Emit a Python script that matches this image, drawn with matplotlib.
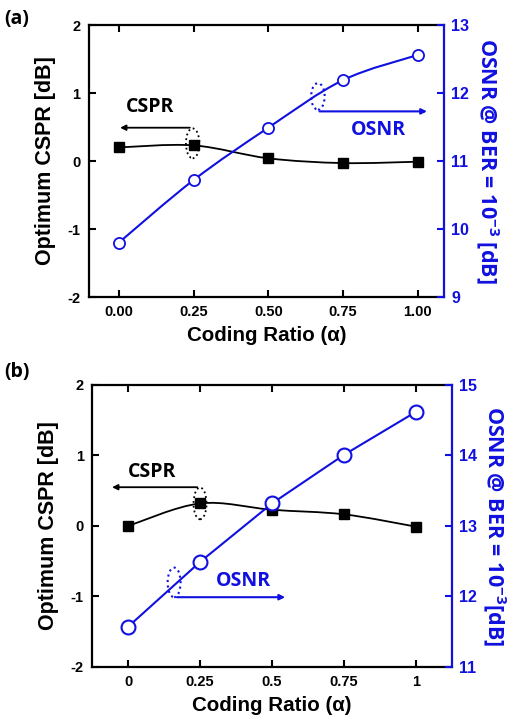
import numpy as np
import matplotlib
matplotlib.use("Agg")
import matplotlib.pyplot as plt
from matplotlib.path import Path
from matplotlib.patches import PathPatch, Ellipse

plt.rcParams['font.family'] = ['Liberation Sans', 'DejaVu Sans']
plt.rcParams['font.weight'] = 'bold'
plt.rcParams['mathtext.fontset'] = 'custom'
plt.rcParams['mathtext.rm'] = 'Open Sans:bold'
plt.rcParams['mathtext.bf'] = 'Open Sans:bold'

# --- data ---
alpha = [0.0, 0.25, 0.5, 0.75, 1.0]
cspr_a = [0.20, 0.23, 0.04, -0.03, -0.01]
osnr_a = [9.80, 10.72, 11.49, 12.19, 12.56]
cspr_b = [0.00, 0.32, 0.23, 0.165, -0.01]
osnr_b = [11.57, 12.49, 13.32, 14.01, 14.62]

xticks_a = [0.0, 0.25, 0.5, 0.75, 1.0]
xlabels_a = ['0.00', '0.25', '0.50', '0.75', '1.00']
xlabels_b = ['0', '0.25', '0.5', '0.75', '1']

BLUE = '#1010e0'
CAL = ['Open Sans', 'DejaVu Sans']


def smooth_path(ax, x, y, color, lw):
    # Catmull-Rom style Bezier through the data points, drawn by matplotlib
    x = np.asarray(x, float)
    y = np.asarray(y, float)
    pts = np.column_stack([x, y])
    verts = [pts[0]]
    codes = [Path.MOVETO]
    n = len(pts)
    for i in range(n - 1):
        p0 = pts[i - 1] if i > 0 else pts[i]
        p1, p2 = pts[i], pts[i + 1]
        p3 = pts[i + 2] if i + 2 < n else pts[i + 1]
        c1 = p1 + (p2 - p0) / 6.0
        c2 = p2 - (p3 - p1) / 6.0
        verts += [c1, c2, p2]
        codes += [Path.CURVE4] * 3
    ax.add_patch(PathPatch(Path(verts, codes), fc='none', ec=color, lw=lw, zorder=2))


def style_axes(ax, ax2):
    for sp in ['left', 'bottom', 'top']:
        ax.spines[sp].set_linewidth(1.6)
    ax.spines['right'].set_visible(False)
    for sp in ['left', 'bottom', 'top']:
        ax2.spines[sp].set_visible(False)
    ax2.spines['right'].set_color(BLUE)
    ax2.spines['right'].set_linewidth(1.6)
    ax.tick_params(axis='both', direction='in', length=5, width=1.5, labelsize=10.5,
                   top=True, pad=6)
    ax2.tick_params(axis='y', direction='in', length=5, width=1.5, labelsize=11.5,
                    colors=BLUE, pad=5)
    ax.set_ylim(-2, 2)
    ax.set_yticks([-2, -1, 0, 1, 2])
    ax.set_yticklabels(['-2', '-1', '0', '1', '2'])
    ax.set_ylabel('Optimum CSPR [dB]', fontsize=15.5, fontweight='bold', labelpad=8)
    ax.set_xlabel('Coding Ratio (α)', fontsize=14.8, fontweight='bold', labelpad=5)


fig = plt.figure(figsize=(5.14, 7.25), dpi=100)

# ---------------- panel (a) ----------------
ax = fig.add_axes([0.173, 0.5903, 0.691, 0.3752])
ax2 = ax.twinx()
ax.set_xlim(-0.1, 1.088)
ax.set_xticks(xticks_a)
ax.set_xticklabels(xlabels_a)
style_axes(ax, ax2)

smooth_path(ax, alpha, cspr_a, 'black', 1.3)
ax.plot(alpha, cspr_a, 's', color='black', ms=7, zorder=4)
ax2.set_ylim(9, 13)
ax2.set_yticks([9, 10, 11, 12, 13])
smooth_path(ax2, alpha, osnr_a, BLUE, 1.5)
ax2.plot(alpha, osnr_a, 'o', mfc='white', mec=BLUE, mew=1.3, ms=8, zorder=4)
ax2.set_ylabel(r'OSNR @ BER = 10$^{-3}$ [dB]', fontsize=15.5, fontweight='bold',
               color=BLUE, rotation=270, labelpad=22, family=CAL)

ax.text(0.104, 0.79, 'CSPR', fontsize=14, fontweight='bold', ha='center', va='center',
        family=CAL)
ax.annotate('', xy=(-0.005, 0.49), xytext=(0.247, 0.49),
            arrowprops=dict(arrowstyle='-|>', color='black', lw=1.3, mutation_scale=8))
ax.add_patch(Ellipse((0.247, 0.26), 0.045, 0.44, fill=False, ls=':', lw=1.3, ec='black', zorder=5))
ax.add_patch(Ellipse((0.666, 0.95), 0.045, 0.39, fill=False, ls=':', lw=1.5, ec=BLUE, zorder=5))
ax.annotate('', xy=(1.04, 0.73), xytext=(0.662, 0.73),
            arrowprops=dict(arrowstyle='-|>', color=BLUE, lw=1.5, mutation_scale=8))
ax.text(0.87, 0.45, 'OSNR', fontsize=14, fontweight='bold', ha='center', va='center',
        color=BLUE, family=CAL)
fig.text(0.008, 0.988, '(a)', fontsize=14, fontweight='bold', ha='left', va='top', family=CAL)

# ---------------- panel (b) ----------------
bx = fig.add_axes([0.179, 0.080, 0.700, 0.389])
bx2 = bx.twinx()
bx.set_xlim(-0.125, 1.124)
bx.set_xticks(xticks_a)
bx.set_xticklabels(xlabels_b)
style_axes(bx, bx2)

smooth_path(bx, alpha, cspr_b, 'black', 1.3)
bx.plot(alpha, cspr_b, 's', color='black', ms=7, zorder=4)
bx2.set_ylim(11, 15)
bx2.set_yticks([11, 12, 13, 14, 15])
bx2.plot(alpha, osnr_b, '-o', color=BLUE, mfc='white', mec=BLUE, mew=1.5, ms=10, lw=1.5, zorder=4)
bx2.set_ylabel(r'OSNR @ BER = 10$^{-3}$[dB]', fontsize=15.5, fontweight='bold',
               color=BLUE, rotation=270, labelpad=22, family=CAL)

bx.text(0.084, 0.76, 'CSPR', fontsize=14, fontweight='bold', ha='center', va='center',
        family=CAL)
bx.annotate('', xy=(-0.065, 0.55), xytext=(0.25, 0.55),
            arrowprops=dict(arrowstyle='-|>', color='black', lw=1.3, mutation_scale=8))
bx.add_patch(Ellipse((0.25, 0.32), 0.045, 0.45, fill=False, ls=':', lw=1.3, ec='black', zorder=5))
bx.add_patch(Ellipse((0.16, -0.80), 0.045, 0.42, fill=False, ls=':', lw=1.5, ec=BLUE, zorder=5))
bx.annotate('', xy=(0.555, -1.01), xytext=(0.16, -1.01),
            arrowprops=dict(arrowstyle='-|>', color=BLUE, lw=1.5, mutation_scale=8))
bx.text(0.40, -0.78, 'OSNR', fontsize=14, fontweight='bold', ha='center', va='center',
        color=BLUE, family=CAL)
fig.text(0.008, 0.5, '(b)', fontsize=14, fontweight='bold', ha='left', va='top', family=CAL)

fig.savefig('out.png', dpi=100)
